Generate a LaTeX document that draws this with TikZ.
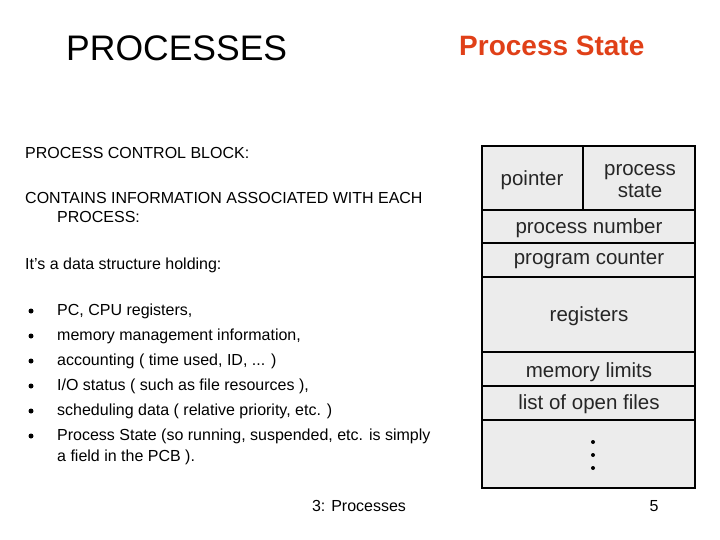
\documentclass[tikz,border=0pt]{standalone}
\usepackage{fontspec}
\setmainfont{Liberation Sans}
\begin{document}
\begin{tikzpicture}[x=1pt,y=-1pt,
  txt/.style={anchor=west,inner sep=0pt,font=\fontsize{16}{19}\selectfont},
  bul/.style={circle,fill=black,inner sep=0pt,minimum size=5pt},
  cell/.style={draw=black,line width=1.2pt,fill=gray!15,inner sep=0pt},
  ctext/.style={font=\fontsize{20.5}{22}\selectfont,text=black!85}]
\useasboundingbox (0,0) rectangle (720,540);
\node[anchor=west,inner sep=0pt,font=\fontsize{35.5}{38}\selectfont] (title) at (66,48) {PROCESSES};
\node[anchor=west,inner sep=0pt,font=\bfseries\fontsize{28}{30}\selectfont,text={rgb,255:red,224;green,64;blue,24}] (ps) at (459,46) {Process State};
\node[txt] (t1) at (25,153) {PROCESS CONTROL BLOCK:};
\node[txt] (t2) at (25,198) {CONTAINS INFORMATION ASSOCIATED WITH EACH};
\node[txt] (t3) at (57,217) {PROCESS:};
\node[txt] (t4) at (25,265) {It's a data structure holding:};
\foreach \y/\t [count=\i] in {311/{PC, CPU registers,},336/{memory management information,},361/{accounting ( time used, ID, ... )},386/{I/O status ( such as file resources ),},411/{scheduling data ( relative priority, etc. )},436/{Process State (so running, suspended, etc. is simply}}{
  \node[bul] (b\i) at (31,\y) {};
  \node[txt] (l\i) at (57,\y) {\t};
}
\node[txt] (l7) at (57,457) {a field in the PCB ).};
\node[txt,anchor=center] (foot) at (359,506) {3: Processes};
\node[txt,anchor=center] (num) at (654,506) {5};
% PCB
\draw[cell] (482,146) rectangle (695,488);
\foreach \yy in {210,243,277,352,386,420}{\draw[line width=1.2pt] (482,\yy) -- (695,\yy);}
\draw[line width=1.2pt] (583,146) -- (583,210);
\node[ctext] (p1) at (532,180) {pointer};
\node[ctext,align=center,font=\fontsize{20.5}{22}\selectfont] (p2) at (640,181) {process\\state};
\node[ctext] (p3) at (589,228) {process number};
\node[ctext] (p4) at (589,260) {program counter};
\node[ctext] (p5) at (589,316) {registers};
\node[ctext] (p6) at (589,372) {memory limits};
\node[ctext] (p7) at (589,404) {list of open files};
\foreach \yy in {442,455,468}{\fill (593,\yy) circle (2pt);}
\end{tikzpicture}
\end{document}
